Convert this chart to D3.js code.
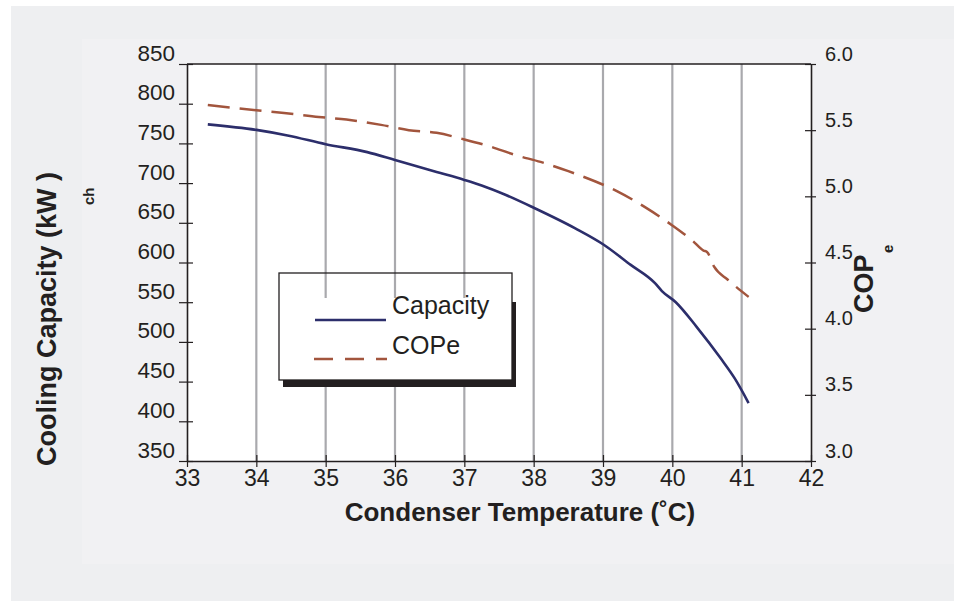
<!DOCTYPE html>
<html>
<head>
<meta charset="utf-8">
<script src="https://cdn.jsdelivr.net/npm/d3@7"></script>
<style>
  html, body { margin: 0; padding: 0; background: #ffffff; }
  svg { display: block; font-family: "Liberation Sans", Arial, Helvetica, sans-serif; }
</style>
</head>
<body>
<svg id="chart" width="954" height="601"></svg>
<script>
// ---- Data ----
const temperature = [33.3, 34.0, 34.45, 35.0, 35.6, 36.0, 36.6, 37.0, 37.25, 37.6, 38.0, 38.6, 39.0, 39.4, 39.75, 39.85, 40.05, 40.35, 40.7, 40.9, 41.1];
const capacity    = [774, 767, 760, 749, 739, 729, 714, 704, 697, 685, 669, 643, 623, 597, 574, 564, 550, 519, 479, 454, 423];

const copTemperature = [33.3, 34.0, 34.4, 34.9, 35.3, 35.8, 36.2, 36.6, 37.0, 37.35, 37.75, 38.1, 38.5, 38.9, 39.2, 39.6, 40.0, 40.3, 40.45, 40.5, 40.6, 40.8, 41.1];
const cope           = [5.69, 5.65, 5.63, 5.60, 5.58, 5.54, 5.50, 5.48, 5.43, 5.38, 5.31, 5.26, 5.19, 5.11, 5.04, 4.92, 4.78, 4.66, 4.59, 4.58, 4.47, 4.37, 4.24];

const xTicks = [33, 34, 35, 36, 37, 38, 39, 40, 41, 42];
const leftTicks = [350, 400, 450, 500, 550, 600, 650, 700, 750, 800, 850];
const rightTicks = [3.0, 3.5, 4.0, 4.5, 5.0, 5.5, 6.0];
const gridValues = [34, 35, 36, 37, 38, 39, 40, 41];

const seriesNames = ["Capacity", "COPe"];
const xTitle = "Condenser Temperature (˚C)";
const yLeftTitle = "Cooling Capacity (kW )";
const yLeftSub = "ch";
const yRightTitle = "COP";
const yRightSub = "e";

// ---- Layout ----
const W = 954, H = 601;
const plot = { left: 187, right: 811, top: 64, bottom: 461 };
const ink = "#231f20";
const capColor = "#2c2e6b";
const copColor = "#a2553d";

const svg = d3.select("#chart");

// backgrounds
svg.append("rect").attr("x", 0).attr("y", 0).attr("width", W).attr("height", H).attr("fill", "#ffffff");
svg.append("rect").attr("x", 11).attr("y", 6).attr("width", W - 11).attr("height", H - 6).attr("fill", "#eeeff1");
svg.append("rect").attr("x", 82).attr("y", 39).attr("width", W - 82).attr("height", 564 - 39).attr("fill", "#f1f1f3");

const x = d3.scaleLinear().domain([33, 42]).range([plot.left, plot.right]);
const yL = d3.scaleLinear().domain([350, 850]).range([plot.bottom, plot.top]);
const yR = d3.scaleLinear().domain([3, 6]).range([plot.bottom, plot.top]);

// plot area
svg.append("rect")
  .attr("x", plot.left).attr("y", plot.top)
  .attr("width", plot.right - plot.left).attr("height", plot.bottom - plot.top)
  .attr("fill", "#ffffff");

// vertical grid lines
svg.append("g").selectAll("line").data(gridValues).join("line")
  .attr("x1", d => x(d)).attr("x2", d => x(d))
  .attr("y1", plot.top).attr("y2", plot.bottom)
  .attr("stroke", "#a9a9ad").attr("stroke-width", 2.2);

// curves
const capLine = d3.line().x((d, i) => x(temperature[i])).y(d => yL(d)).curve(d3.curveMonotoneX);
svg.append("path").datum(capacity)
  .attr("d", capLine).attr("fill", "none")
  .attr("stroke", capColor).attr("stroke-width", 2.6).attr("stroke-linejoin", "round");

const copLine = d3.line().x((d, i) => x(copTemperature[i])).y(d => yR(d)).curve(d3.curveMonotoneX);
svg.append("path").datum(cope)
  .attr("d", copLine).attr("fill", "none")
  .attr("stroke", copColor).attr("stroke-width", 2.5).attr("stroke-dasharray", "22,10");

// legend
const lg = { x: 279, y: 273, w: 233, h: 107 };
svg.append("rect").attr("x", lg.x + 4).attr("y", lg.y + 29).attr("width", lg.w).attr("height", lg.h - 22).attr("fill", ink);
svg.append("rect").attr("x", lg.x).attr("y", lg.y + 25).attr("width", lg.w).attr("height", lg.h - 25).attr("fill", "#ffffff");
svg.append("rect").attr("x", lg.x).attr("y", lg.y).attr("width", lg.w).attr("height", lg.h)
  .attr("fill", "none").attr("stroke", ink).attr("stroke-width", 1.3);
svg.append("line").attr("x1", lg.x + 36).attr("x2", lg.x + 107).attr("y1", lg.y + 47).attr("y2", lg.y + 47)
  .attr("stroke", capColor).attr("stroke-width", 2.6);
svg.append("line").attr("x1", lg.x + 35).attr("x2", lg.x + 108).attr("y1", lg.y + 86).attr("y2", lg.y + 86)
  .attr("stroke", copColor).attr("stroke-width", 2.6).attr("stroke-dasharray", "19,12");
svg.append("g").selectAll("text").data(seriesNames).join("text")
  .attr("x", lg.x + 113).attr("y", (d, i) => lg.y + 41 + i * 40)
  .attr("font-size", 25).attr("fill", ink).text(d => d);

// axes
const axisFont = g => g.selectAll("text").attr("fill", ink).attr("font-family", "'Liberation Sans', Arial, sans-serif");

const gx = svg.append("g").attr("transform", `translate(0,${plot.bottom})`)
  .call(d3.axisBottom(x).tickValues(xTicks).tickFormat(d3.format("d")).tickSizeOuter(0).tickSizeInner(6));
gx.select(".domain").attr("stroke", ink).attr("stroke-width", 1.6);
gx.selectAll(".tick line").attr("y1", -6).attr("y2", 6).attr("stroke", ink).attr("stroke-width", 1.2);
gx.selectAll(".tick text").attr("y", 25).attr("dy", 0).attr("font-size", 23);
axisFont(gx);

const gl = svg.append("g").attr("transform", `translate(${plot.left},0)`)
  .call(d3.axisLeft(yL).tickValues(leftTicks).tickFormat(d3.format("d")).tickSizeOuter(0).tickSizeInner(8));
gl.select(".domain").attr("stroke", ink).attr("stroke-width", 1.6);
gl.selectAll(".tick line").attr("x1", -8).attr("x2", 6).attr("stroke", ink).attr("stroke-width", 1.2);
gl.selectAll(".tick text").attr("x", -12).attr("y", -4).attr("dy", 0).attr("font-size", 22.5);
axisFont(gl);

const gr = svg.append("g").attr("transform", `translate(${plot.right},0)`)
  .call(d3.axisRight(yR).tickValues(rightTicks).tickFormat(d3.format(".1f")).tickSizeOuter(0).tickSizeInner(5));
gr.select(".domain").attr("stroke", ink).attr("stroke-width", 1.6);
gr.selectAll(".tick line").attr("x1", -6).attr("x2", 5).attr("stroke", ink).attr("stroke-width", 1.2);
gr.selectAll(".tick text").attr("x", 14).attr("y", -4).attr("dy", 0).attr("font-size", 20);
axisFont(gr);

// top border
svg.append("line").attr("x1", plot.left).attr("x2", plot.right)
  .attr("y1", plot.top).attr("y2", plot.top).attr("stroke", ink).attr("stroke-width", 1.6);

// titles
svg.append("text").attr("x", (plot.left + plot.right) / 2 + 21).attr("y", 521)
  .attr("text-anchor", "middle").attr("font-size", 26).attr("font-weight", "bold").attr("fill", ink)
  .text(xTitle);

svg.append("text").attr("transform", "translate(56,466) rotate(-90)")
  .attr("font-size", 27).attr("font-weight", "bold").attr("fill", ink).text(yLeftTitle);
svg.append("text").attr("transform", "translate(94,205) rotate(-90)")
  .attr("font-size", 15).attr("font-weight", "bold").attr("fill", ink).text(yLeftSub);

svg.append("text").attr("transform", "translate(873,313) rotate(-90)")
  .attr("font-size", 27).attr("font-weight", "bold").attr("fill", ink).text(yRightTitle);
svg.append("text").attr("transform", "translate(893,253) rotate(-90)")
  .attr("font-size", 15).attr("font-weight", "bold").attr("fill", ink).text(yRightSub);
</script>
</body>
</html>
